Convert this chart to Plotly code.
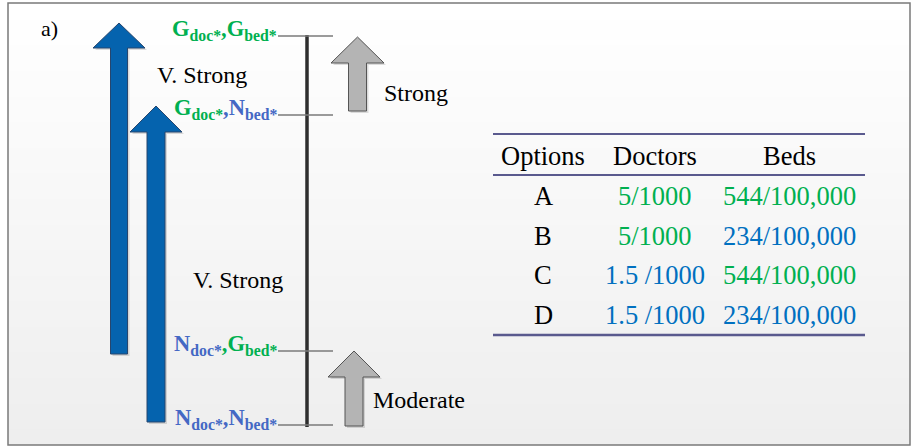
import numpy as np
import plotly.graph_objects as go

# ---------------- data ----------------
panel_label = "a)"
# scenario levels (top -> bottom): (doctor state, bed state)
level_doc = ["G", "G", "N", "N"]
level_bed = ["G", "N", "G", "N"]
strength_labels = ["V. Strong", "Strong", "V. Strong", "Moderate"]

table_header = ["Options", "Doctors", "Beds"]
options = ["A", "B", "C", "D"]
doctors = ["5/1000", "5/1000", "1.5 /1000", "1.5 /1000"]
beds = ["544/100,000", "234/100,000", "544/100,000", "234/100,000"]
doctor_state = ["G", "G", "N", "N"]
bed_state = ["G", "N", "G", "N"]

# ---------------- styles / layout ----------------
W, H = 913, 448
FONT = "Liberation Serif"
GREEN = "#00b050"
LBL_BLUE = "#4468c4"
TBL_BLUE = "#0070c0"
ARROW_BLUE = "#0563ae"
ARROW_EDGE = "#27466e"
GRAY_FILL = "#b4b4b4"
GRAY_EDGE = "#555555"
TABLE_LINE = "#5a5a8e"

label_color = {"G": GREEN, "N": LBL_BLUE}
table_color = {"G": GREEN, "N": TBL_BLUE}

level_y = [36, 115, 351, 425]  # y positions of the level ticks

fig = go.Figure()

# background gradient (white -> light gray) via heatmap
nb = 60
top, bot, left, right = 3, 445, 8, 910
fig.add_trace(go.Heatmap(
    z=np.linspace(0, 1, nb).reshape(-1, 1),
    x0=(left + right) / 2, dx=right - left,
    y0=top + (bot - top) / nb / 2, dy=(bot - top) / nb,
    colorscale=[[0, "#ffffff"], [1, "#eeeeee"]],
    showscale=False, hoverinfo="skip", zsmooth="best"))

shapes = []
# border
shapes.append(dict(type="rect", x0=left, x1=right, y0=top, y1=bot,
                   line=dict(color="#7a7a7a", width=1.5)))


def arrow_path(cx, hs, hh, tip, base, bottom):
    return (f"M {cx-hs},{bottom} L {cx-hs},{base} L {cx-hh},{base} L {cx},{tip} "
            f"L {cx+hh},{base} L {cx+hs},{base} L {cx+hs},{bottom} Z")


arrows = [
    # cx, half shaft, half head, tip, head base, bottom, fill, edge
    (119, 8.5, 26, 23, 48, 354, ARROW_BLUE, ARROW_EDGE),
    (156, 9, 26, 106, 132, 422, ARROW_BLUE, ARROW_EDGE),
    (357.5, 9, 26.5, 37, 63, 111, GRAY_FILL, GRAY_EDGE),
    (354, 9, 26, 351, 377, 426, GRAY_FILL, GRAY_EDGE),
]
for cx, hs, hh, tip, base, bottom, fc, ec in arrows:
    shapes.append(dict(type="path",
                       path=arrow_path(cx + 2, hs, hh, tip + 2, base + 2, bottom + 2),
                       fillcolor="rgba(0,0,0,0.13)", line=dict(width=0)))
    shapes.append(dict(type="path", path=arrow_path(cx, hs, hh, tip, base, bottom),
                       fillcolor=fc, line=dict(color=ec, width=1)))

# vertical scale line
shapes.append(dict(type="line", x0=307, x1=307, y0=35, y1=427,
                   line=dict(color="#2e2e2e", width=3.5)))
# level ticks
for y in level_y:
    shapes.append(dict(type="line", x0=278, x1=333, y0=y, y1=y,
                       line=dict(color="#7a7a7a", width=1.5)))

# table rules
for y, w in [(134, 2), (175, 2), (335, 2.5)]:
    shapes.append(dict(type="line", x0=493, x1=865, y0=y, y1=y,
                       line=dict(color=TABLE_LINE, width=w)))

annotations = []


def txt(x, y, s, size, color="#000000", xanchor="center"):
    annotations.append(dict(x=x, y=y, xref="x", yref="y", text=s, showarrow=False,
                            xanchor=xanchor, yanchor="middle",
                            font=dict(family=FONT, size=size, color=color)))


txt(49, 28, panel_label, 22)

# level labels
for d, b, y in zip(level_doc, level_bed, level_y):
    s = (f"<b><span style='color:{label_color[d]}'>{d}<sub>doc*</sub></span>"
         f"<span style='color:{label_color[b]}'>,{b}<sub>bed*</sub></span></b>")
    txt(279, y - 6, s, 22.5, xanchor="right")

# strength labels
strength_pos = [(202, 75), (416, 93), (238, 280), (419, 400)]
for s, (x, y) in zip(strength_labels, strength_pos):
    txt(x, y, s, 24)

# table
col_x = [543, 655, 789]
for s, x in zip(table_header, col_x):
    txt(x, 156, s, 26.5)
row_y = [196, 236, 275, 315]
for i, y in enumerate(row_y):
    txt(col_x[0], y, options[i], 26.5)
    txt(col_x[1], y, doctors[i], 26.5, table_color[doctor_state[i]])
    txt(col_x[2], y, beds[i], 26.5, table_color[bed_state[i]])

fig.update_layout(
    width=W, height=H, margin=dict(l=0, r=0, t=0, b=0),
    paper_bgcolor="#ffffff", plot_bgcolor="#ffffff",
    xaxis=dict(range=[0, W], visible=False, fixedrange=True),
    yaxis=dict(range=[H, 0], visible=False, fixedrange=True),
    shapes=shapes, annotations=annotations, showlegend=False,
)

fig.write_html("out.html", config={"displayModeBar": False},
               post_script="document.body.style.margin='0';")
